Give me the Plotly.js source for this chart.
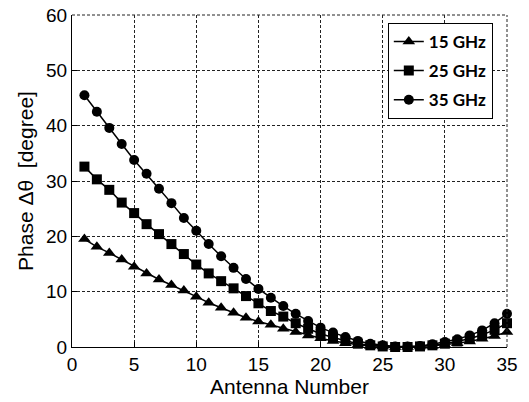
<!DOCTYPE html>
<html>
<head>
<meta charset="utf-8">
<script src="https://cdn.plot.ly/plotly-3.0.1.min.js"></script>
<style>html,body{margin:0;padding:0;background:#fff;}#chart{width:529px;height:402px;}</style>
</head>
<body>
<div id="chart"></div>
<script>
const antenna = [1,2,3,4,5,6,7,8,9,10,11,12,13,14,15,16,17,18,19,20,21,22,23,24,25,26,27,28,29,30,31,32,33,34,35];
const phase15 = [19.5,18.1,17.0,15.8,14.5,13.3,12.2,11.2,10.2,9.1,8.0,7.1,6.2,5.3,4.6,4.0,3.3,2.7,2.1,1.6,1.1,0.7,0.4,0.2,0.1,0.0,0.0,0.1,0.2,0.4,0.7,1.0,1.5,2.0,2.7];
const phase25 = [32.6,30.3,28.4,26.1,24.2,22.2,20.4,18.6,16.8,14.9,13.3,11.9,10.6,9.2,7.9,6.5,5.5,4.3,3.3,2.4,1.7,1.1,0.6,0.3,0.1,0.0,0.0,0.1,0.3,0.6,1.0,1.5,2.2,3.1,4.3];
const phase35 = [45.5,42.5,39.6,36.7,33.8,31.3,28.6,26.0,23.3,21.0,18.6,16.4,14.3,12.3,10.5,8.9,7.4,6.0,4.7,3.5,2.6,1.8,1.1,0.6,0.3,0.1,0.1,0.2,0.5,0.9,1.4,2.1,3.0,4.3,6.0];
const seriesNames = ['15 GHz','25 GHz','35 GHz'];
const xTicks = [0,5,10,15,20,25,30,35];
const yTicks = [0,10,20,30,40,50,60];

const symbols = ['triangle-up','square','circle'];
const sizes = [11,10,10];
const data = [phase15, phase25, phase35].map((ys, i) => ({
  x: antenna, y: ys, name: seriesNames[i], type: 'scatter', mode: 'lines+markers',
  legendgroup: 'g' + i,
  line: {color: '#000', width: 1.5},
  marker: {symbol: symbols[i], size: sizes[i], color: '#000'},
  cliponaxis: false
}));

const gridStyle = {showgrid: true, gridcolor: '#222', gridwidth: 1, griddash: '3px,2px'};
const layout = {
  width: 529, height: 402,
  margin: {l: 72, r: 22, t: 15, b: 55},
  paper_bgcolor: '#fff', plot_bgcolor: '#fff',
  font: {family: 'Liberation Sans, Arial, sans-serif', size: 19, color: '#000'},
  showlegend: true,
  legend: {x: 0.726, y: 0.976, xanchor: 'left', yanchor: 'top',
    bordercolor: '#000', borderwidth: 1, bgcolor: '#fff',
    font: {family: 'Lato, Open Sans, sans-serif', size: 17, color: '#000', weight: 'bold'},
    tracegroupgap: 4},
  xaxis: Object.assign({
    range: [0, 35], tickvals: xTicks, ticktext: xTicks.map(String),
    ticks: 'inside', ticklen: 5, tickcolor: '#000',
    showline: true, linecolor: '#000', linewidth: 1, zeroline: false,
    title: {text: 'Antenna Number', standoff: 0, font: {size: 21}}
  }, gridStyle),
  yaxis: Object.assign({
    range: [0, 60], tickvals: yTicks, ticktext: yTicks.map(String),
    ticks: 'inside', ticklen: 5, tickcolor: '#000',
    showline: true, linecolor: '#000', linewidth: 1, zeroline: false,
    title: {text: 'Phase \u0394\u03b8  [degree]', standoff: 6, font: {size: 21}}
  }, gridStyle),
  shapes: [
    {type: 'line', xref: 'paper', yref: 'paper', x0: 0, x1: 1, y0: 1, y1: 1, line: {color: '#222', width: 1, dash: '3px,2px'}},
    {type: 'line', xref: 'paper', yref: 'paper', x0: 1, x1: 1, y0: 0, y1: 1, line: {color: '#222', width: 1, dash: '3px,2px'}}
  ]
};
Plotly.newPlot('chart', data, layout, {staticPlot: true, displayModeBar: false});
</script>
</body>
</html>
